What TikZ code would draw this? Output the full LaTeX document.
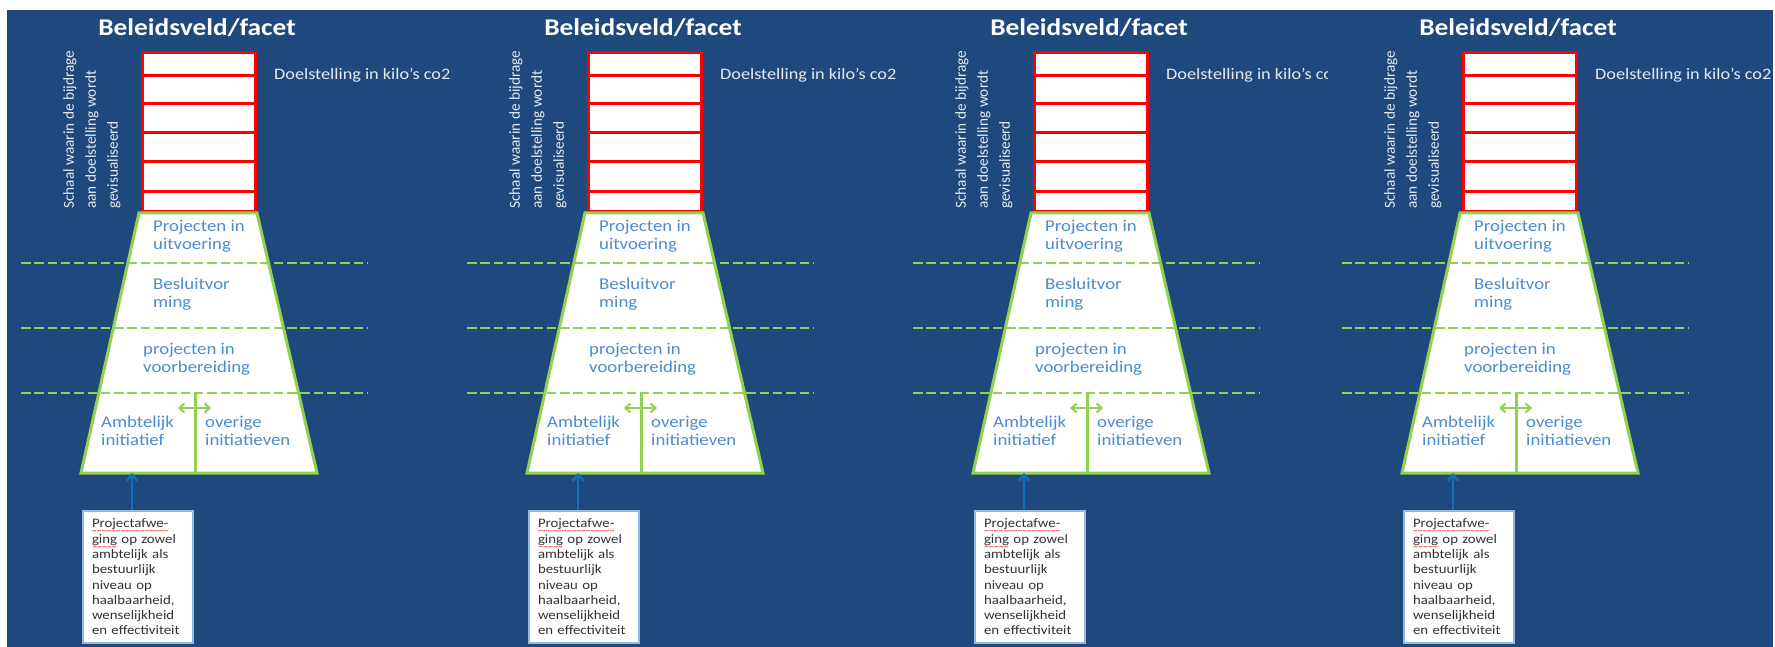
\documentclass[tikz,border=0pt]{standalone}
\usepackage{fontspec}
\setmainfont{Carlito}[FakeStretch=1.14]
\newfontfamily\plainfont{Carlito}
\usetikzlibrary{arrows.meta}
\definecolor{bgblue}{RGB}{31,73,125}
\definecolor{lblue}{RGB}{75,140,210}
\definecolor{lgreen}{RGB}{146,208,80}
\definecolor{boxedge}{RGB}{150,185,225}
\definecolor{arrblue}{RGB}{20,110,190}
\newcommand\redwave[1]{\setbox0=\hbox{#1}\leavevmode\rlap{\raisebox{-6pt}[0pt][0pt]{\color{red}\hbox to \wd0{\fontsize{8}{8}\selectfont\xleaders\hbox{\char`\~}\hfil}}}\box0\relax}
\tikzset{
  ttl/.style={text=white, font=\bfseries\fontsize{24}{28}\selectfont, inner sep=0pt},
  dtxt/.style={text=white!88!bgblue, font=\fontsize{16}{18}\selectfont, inner sep=0pt},
  vtext/.style={text=white!88!bgblue, font=\plainfont\fontsize{15.3}{22}\selectfont, align=left, inner sep=0pt},
  ladder/.style={draw=red, fill=white, line width=3pt},
  rung/.style={draw=red, line width=3pt},
  trap/.style={draw=lgreen, fill=white, line width=3pt, line join=miter},
  gdash/.style={draw=lgreen, line width=2.7pt, dash pattern=on 9.5pt off 3.8pt},
  gline/.style={draw=lgreen, line width=3pt},
  garrow/.style={draw=lgreen, line width=2pt, {Straight Barb[length=5pt,width=9pt]}-{Straight Barb[length=5pt,width=9pt]}},
  lbl/.style={text=lblue, font=\fontsize{16.5}{18}\selectfont, align=left, inner sep=0pt, anchor=west},
  pbox/.style={draw=boxedge, line width=2pt, fill=white, text width=92pt, inner xsep=9pt, inner ysep=4pt,
    minimum height=132pt, align=left, font=\fontsize{13}{15.3}\selectfont, text=black!80},
  barrow/.style={draw=arrblue, line width=2.5pt, -{Straight Barb[length=6pt,width=11pt]}}
}
\begin{document}
\begin{tikzpicture}[x=1pt,y=-1pt]
\useasboundingbox (0,0) rectangle (1775,647);
\fill[white] (0,0) rectangle (1775,647);
\foreach \dx/\k/\bx in {0/a/7,446/b/458,892/c/905,1321/d/1328}{
  \fill[bgblue] (\bx,10) rectangle (1773,647);
  \begin{scope}[xshift=\dx pt]
    \node[ttl] (t\k) at (197,28) {Beleidsveld/facet};
    \node[dtxt, anchor=west] (d\k) at (274,75) {Doelstelling in kilo’s co2};
    \node[vtext, rotate=90, anchor=north west] (v\k) at (63,209) {Schaal waarin de bijdrage\\aan doelstelling wordt\\gevisualiseerd};
    \draw[ladder] (142,53) rectangle (255,212);
    \foreach \yy in {76,104,133,162,192} \draw[rung] (142,\yy) -- (255,\yy);
    \filldraw[trap] (139,213) -- (257,213) -- (317,473) -- (81,473) -- cycle;
    \foreach \yy in {263,328,393} \draw[gdash] (21,\yy) -- (367,\yy);
    \draw[gline] (195,393) -- (195,473);
    \draw[garrow] (178,408) -- (211,408);
    \node[lbl] (p\k) at (153,236) {Projecten in\\uitvoering};
    \node[lbl] (b\k) at (153,294) {Besluitvor\\ming};
    \node[lbl] (r\k) at (143,359) {projecten in\\voorbereiding};
    \node[lbl] (a\k) at (101,431) {Ambtelijk\\initiatief};
    \node[lbl] (o\k) at (205,431) {overige\\initiatieven};
    \node[pbox, anchor=north] (box\k) at (138,510) {\redwave{Projectafwe-}\\\redwave{ging} op zowel\\ambtelijk als\\bestuurlijk\\niveau op\\haalbaarheid,\\wenselijkheid\\en effectiviteit};
    \coordinate (tb\k) at (132,473);
    \draw[barrow] (box\k.north -| tb\k) -- (tb\k);
  \end{scope}
}
\end{tikzpicture}
\end{document}
